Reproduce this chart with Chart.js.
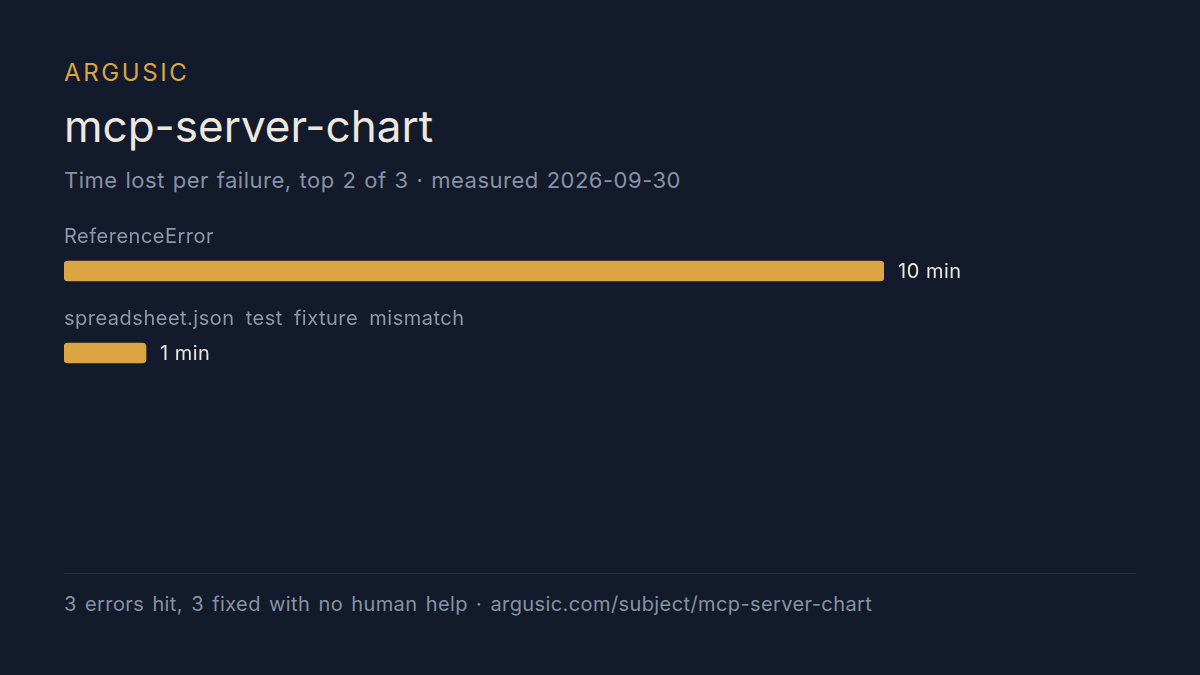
<!DOCTYPE html>
<html>
<head>
<meta charset="utf-8">
<script src="https://cdn.jsdelivr.net/npm/chart.js@4/dist/chart.umd.min.js"></script>
<style>
  html,body{margin:0;padding:0;}
  body{width:1200px;height:675px;background:#131a2b;position:relative;overflow:hidden;font-family:Inter,"Noto Sans",sans-serif;}
  .brand{position:absolute;left:64px;top:58px;font-size:24px;letter-spacing:2.6px;color:#dba544;line-height:30px;}
  .title{position:absolute;left:64px;top:98px;font-size:44px;color:#ece8df;line-height:56px;}
  .sub{position:absolute;left:64px;top:165px;font-size:22px;letter-spacing:0.5px;word-spacing:1.2px;color:#8892a5;line-height:30px;}
  #wrap{position:absolute;left:64px;top:200px;width:1072px;height:194px;}
  .rule{position:absolute;left:64px;top:573px;width:1072px;height:1px;background:#2a3244;}
  .foot{position:absolute;left:64px;top:590px;font-size:20px;letter-spacing:0.4px;word-spacing:2.2px;color:#8892a5;line-height:28px;}
</style>
</head>
<body>
<div class="brand">ARGUSIC</div>
<div class="title">mcp-server-chart</div>
<div class="sub">Time lost per failure, top 2 of 3 · measured 2026-09-30</div>
<div id="wrap"><canvas id="barChart"></canvas></div>
<div class="rule"></div>
<div class="foot">3 errors hit, 3 fixed with no human help · argusic.com/subject/mcp-server-chart</div>
<script>
// failures and minutes lost
var categories=["ReferenceError","spreadsheet.json test fixture mismatch"];
var minutes=[10,1];
var valueLabels=["10 min","1 min"];

// labels above bars + value text at bar end
var barText={
    id:"barText",
    afterDatasetsDraw:function(chart){
        var ctx=chart.ctx;
        var meta=chart.getDatasetMeta(0);
        ctx.save();
        ctx.font="20px Inter";
        ctx.letterSpacing="0.5px";
        ctx.textBaseline="middle";
        ctx.textAlign="left";
        for(var i=0;i<meta.data.length;i++){
            var bar=meta.data[i];
            ctx.wordSpacing="5px";
            ctx.fillStyle="#8f99ab";
            ctx.fillText(categories[i],chart.chartArea.left,bar.y-34);
            ctx.wordSpacing="0px";
            ctx.fillStyle="#ece8df";
            ctx.fillText(valueLabels[i],bar.x+14,bar.y+1);
        }
        ctx.restore();
    }
};

let c=document.getElementById("barChart").getContext("2d");
let chart=new Chart(c,{
    type:"bar",
    data:{
        labels:categories,
        datasets:[
            {
                data:minutes,
                backgroundColor:"#dba544",
                borderRadius:4,
                borderSkipped:false,
                barThickness:20
            }
        ]
    },
    options:{
        indexAxis:"y",
        responsive:true,
        maintainAspectRatio:false,
        animation:false,
        layout:{padding:{top:30,right:252,left:0,bottom:0}},
        scales:{
            x:{display:false,min:0,max:10},
            y:{display:false}
        },
        plugins:{
            legend:{display:false},
            tooltip:{enabled:false}
        }
    },
    plugins:[barText]
});
</script>
</body>
</html>
